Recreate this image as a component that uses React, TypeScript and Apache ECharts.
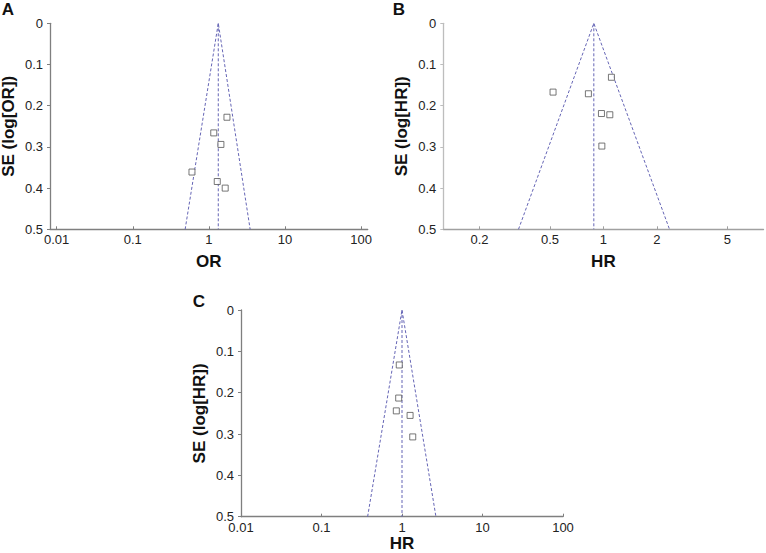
import React, { useEffect, useRef } from "react";
import * as echarts from "echarts";

// Panel A: OR studies
const studyOR_A = [1.73, 1.16, 1.44, 0.6, 1.29, 1.64];
const studySE_A = [0.228, 0.266, 0.294, 0.361, 0.384, 0.4];
// funnel: pooled estimate and 95% limits at SE = 0.5
const funnelA = { center: 1.33, lower: 0.488, upper: 3.49 };

// Panel B: HR studies
const studyHR_B = [1.11, 0.52, 0.823, 0.975, 1.087, 0.98];
const studySE_B = [0.131, 0.167, 0.171, 0.219, 0.222, 0.298];
const funnelB = { center: 0.883, lower: 0.332, upper: 2.36 };

// Panel C: HR studies
const studyHR_C = [0.925, 0.91, 0.85, 1.26, 1.36];
const studySE_C = [0.133, 0.213, 0.244, 0.255, 0.307];
const funnelC = { center: 1.0, lower: 0.374, upper: 2.64 };

const xTicksAC = [0.01, 0.1, 1, 10, 100];
const xTicksB = [0.2, 0.5, 1, 2, 5];
const seMax = 0.5;

const FONT = "Liberation Sans, Arial, Helvetica, sans-serif";
const FUNNEL_COLOR = "#6565b5";

function fmt(v: number): string {
  const r = Math.round(v * 1000) / 1000;
  return String(r);
}

function xAxisCfg(idx: number, min: number, max: number, ticks: number[], name: string, color: string, nameGap: number) {
  return {
    type: "log",
    logBase: 10,
    gridIndex: idx,
    position: "bottom",
    min,
    max,
    name,
    nameLocation: "middle",
    nameGap,
    nameTextStyle: { fontFamily: FONT, fontWeight: "bold", fontSize: 17, color: "#111" },
    axisLine: { show: true, onZero: false, lineStyle: { color, width: 1.3 } },
    axisTick: { show: true, inside: true, length: 3, customValues: ticks, lineStyle: { color, width: 1 } },
    axisLabel: {
      show: true,
      customValues: ticks,
      margin: 4,
      fontFamily: FONT,
      fontSize: 13,
      color: "#222",
      formatter: (v: number) => fmt(v),
    },
    splitLine: { show: false },
    minorTick: { show: false },
  };
}

function yAxisCfg(idx: number, name: string, color: string) {
  return {
    type: "value",
    gridIndex: idx,
    position: "left",
    min: 0,
    max: seMax,
    interval: 0.1,
    inverse: true,
    name,
    nameLocation: "middle",
    nameGap: 33,
    nameTextStyle: { fontFamily: FONT, fontWeight: "bold", fontSize: 17, color: "#111" },
    axisLine: { show: true, onZero: false, lineStyle: { color, width: 1.3 } },
    axisTick: { show: true, inside: false, length: 3, lineStyle: { color, width: 1 } },
    axisLabel: {
      show: true,
      margin: 7,
      fontFamily: FONT,
      fontSize: 13,
      color: "#222",
      formatter: (v: number) => fmt(v),
    },
    splitLine: { show: false },
  };
}

function panelSeries(idx: number, xs: number[], ses: number[], f: { center: number; lower: number; upper: number }) {
  return [
    {
      type: "line",
      xAxisIndex: idx,
      yAxisIndex: idx,
      data: [
        [f.lower, seMax],
        [f.center, 0],
        [f.upper, seMax],
      ],
      symbol: "none",
      lineStyle: { color: FUNNEL_COLOR, width: 1, type: [3, 2] },
      silent: true,
      z: 2,
    },
    {
      type: "line",
      xAxisIndex: idx,
      yAxisIndex: idx,
      data: [
        [f.center, 0],
        [f.center, seMax],
      ],
      symbol: "none",
      lineStyle: { color: FUNNEL_COLOR, width: 1, type: [3, 2] },
      silent: true,
      z: 2,
    },
    {
      type: "scatter",
      xAxisIndex: idx,
      yAxisIndex: idx,
      data: xs.map((x, i) => [x, ses[i]]),
      symbol: "rect",
      symbolSize: 6,
      itemStyle: { color: "#ffffff", borderColor: "#555", borderWidth: 1 },
      z: 3,
    },
  ];
}

export default function App() {
  const ref = useRef<HTMLDivElement>(null);
  useEffect(() => {
    if (!ref.current) return;
    const chart = echarts.init(ref.current, undefined, { renderer: "svg" });
    const letter = (t: string, x: number, y: number) => ({
      type: "text",
      x,
      y,
      style: { text: t, fontFamily: FONT, fontWeight: "bold", fontSize: 17, fill: "#111", textAlign: "center", textVerticalAlign: "middle" },
    });
    chart.setOption({
      animation: false,
      backgroundColor: "#ffffff",
      grid: [
        { left: 50, top: 23.3, width: 317.7, height: 206, outerBoundsMode: "none" },
        { left: 443.3, top: 23.3, width: 320.2, height: 206, outerBoundsMode: "none" },
        { left: 241, top: 310, width: 322, height: 206.7, outerBoundsMode: "none" },
      ],
      xAxis: [
        xAxisCfg(0, 0.00817, 122.4, xTicksAC, "OR", "#7f7f7f", 24),
        xAxisCfg(1, 0.125, 8, xTicksB, "HR", "#a0a0a0", 24),
        xAxisCfg(2, 0.01, 100, xTicksAC, "HR", "#7f7f7f", 18),
      ],
      yAxis: [
        yAxisCfg(0, "SE (log[OR])", "#7f7f7f"),
        yAxisCfg(1, "SE (log[HR])", "#bdbdbd"),
        yAxisCfg(2, "SE (log[HR])", "#7f7f7f"),
      ],
      series: [
        ...panelSeries(0, studyOR_A, studySE_A, funnelA),
        ...panelSeries(1, studyHR_B, studySE_B, funnelB),
        ...panelSeries(2, studyHR_C, studySE_C, funnelC),
      ],
      graphic: [letter("A", 8, 9), letter("B", 399, 9), letter("C", 199, 301)],
    });
    return () => chart.dispose();
  }, []);
  return <div ref={ref} style={{ position: "absolute", left: 0, top: 0, width: 766, height: 553 }} />;
}
